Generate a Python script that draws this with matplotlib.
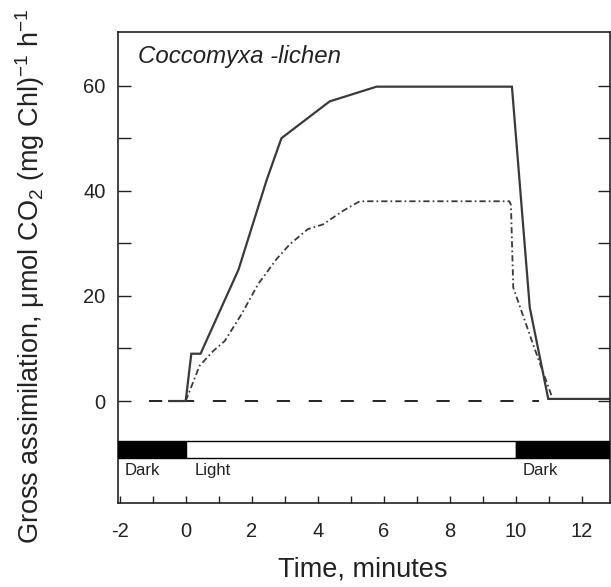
import matplotlib
matplotlib.use('Agg')
import matplotlib.pyplot as plt
from matplotlib.patches import Rectangle

plt.rcParams['font.family'] = ['Liberation Sans', 'DejaVu Sans']
plt.rcParams['mathtext.fontset'] = 'custom'
plt.rcParams['mathtext.rm'] = 'Liberation Sans'
plt.rcParams['mathtext.it'] = 'Liberation Sans:italic'
plt.rcParams['mathtext.default'] = 'regular'
plt.rcParams['lines.scale_dashes'] = False
plt.rcParams['axes.unicode_minus'] = False

# gross assimilation, full line
t_full = [-0.5, 0.0, 0.17, 0.45, 1.6, 2.45, 2.9, 4.36, 5.78, 9.88, 10.42, 10.98, 12.9]
y_full = [0, 0, 9, 9, 25, 42, 50, 57, 59.8, 59.8, 17.8, 0.4, 0.4]

# dash-dot series
t_dd = [0.0, 0.12, 0.42, 0.83, 1.18, 1.69, 2.19, 2.75, 3.15, 3.7, 4.16, 4.77, 5.27,
        9.8, 9.85, 9.92, 10.52, 11.08]
y_dd = [0, 1.9, 6.7, 9.5, 11.4, 16.5, 22.2, 27, 29.8, 32.7, 33.6, 36.2, 38,
        38, 37.3, 21.6, 10.8, 1.0]

# light regime bar: (start, end, dark?)
periods = [(-2.05, 0, True), (0, 10, False), (10, 12.9, True)]
period_labels = [(-1.85, 'Dark'), (0.27, 'Light'), (10.2, 'Dark')]

fig = plt.figure(figsize=(6.11, 5.87), dpi=100)
ax = fig.add_axes([118 / 611, 1 - 503 / 587, (610 - 118) / 611, (503 - 32) / 587])

lc = '#3a3a3a'
ax.plot([-1.1, 10.7], [0, 0], color='#222222', lw=1.4, dashes=(9.5, 13.5))
ax.plot(t_full, y_full, color=lc, lw=1.6, solid_joinstyle='miter')
ax.plot(t_dd, y_dd, color=lc, lw=1.3, dashes=(4.5, 2.2, 1.2, 2.2))

for x0, x1, dark in periods:
    ax.add_patch(Rectangle((x0, -10.9), x1 - x0, 3.2,
                           facecolor='black' if dark else 'white',
                           edgecolor='black', lw=1.0, zorder=3))
for x, s in period_labels:
    ax.text(x, -13.2, s, fontsize=12, va='center', ha='left', color='#222222')

ax.text(0.04, 0.973, 'Coccomyxa -lichen', transform=ax.transAxes, fontsize=17.3,
        style='italic', va='top', ha='left', color='#222222')

ax.set_xlim(-2.05, 12.85)
ax.set_ylim(-19.4, 70.2)

ax.set_xticks([-2, 0, 2, 4, 6, 8, 10, 12])
ax.set_xticks(list(range(-1, 13)), minor=True)
ax.set_yticks([0, 20, 40, 60])
ax.set_yticks([10, 30, 50], minor=True)
ax.tick_params(axis='x', which='both', direction='in', length=5, width=1.0,
               labelsize=14.5, pad=14, colors='#222222')
ax.tick_params(axis='y', which='both', direction='in', length=9, width=1.0,
               labelsize=14.5, pad=9, right=True, colors='#222222')

for sp in ax.spines.values():
    sp.set_linewidth(1.2)
    sp.set_color('#222222')

fig.text(363 / 611, 1 - 570 / 587, 'Time, minutes', fontsize=19.5, ha='center', va='center',
         color='#222222')
fig.text(30 / 611, 1 - 276 / 587,
         'Gross assimilation, μmol CO$_2$ (mg Chl)$^{-1}$ h$^{-1}$',
         fontsize=19.5, rotation=90, ha='center', va='center', color='#222222')

fig.savefig('out.png', dpi=100)
